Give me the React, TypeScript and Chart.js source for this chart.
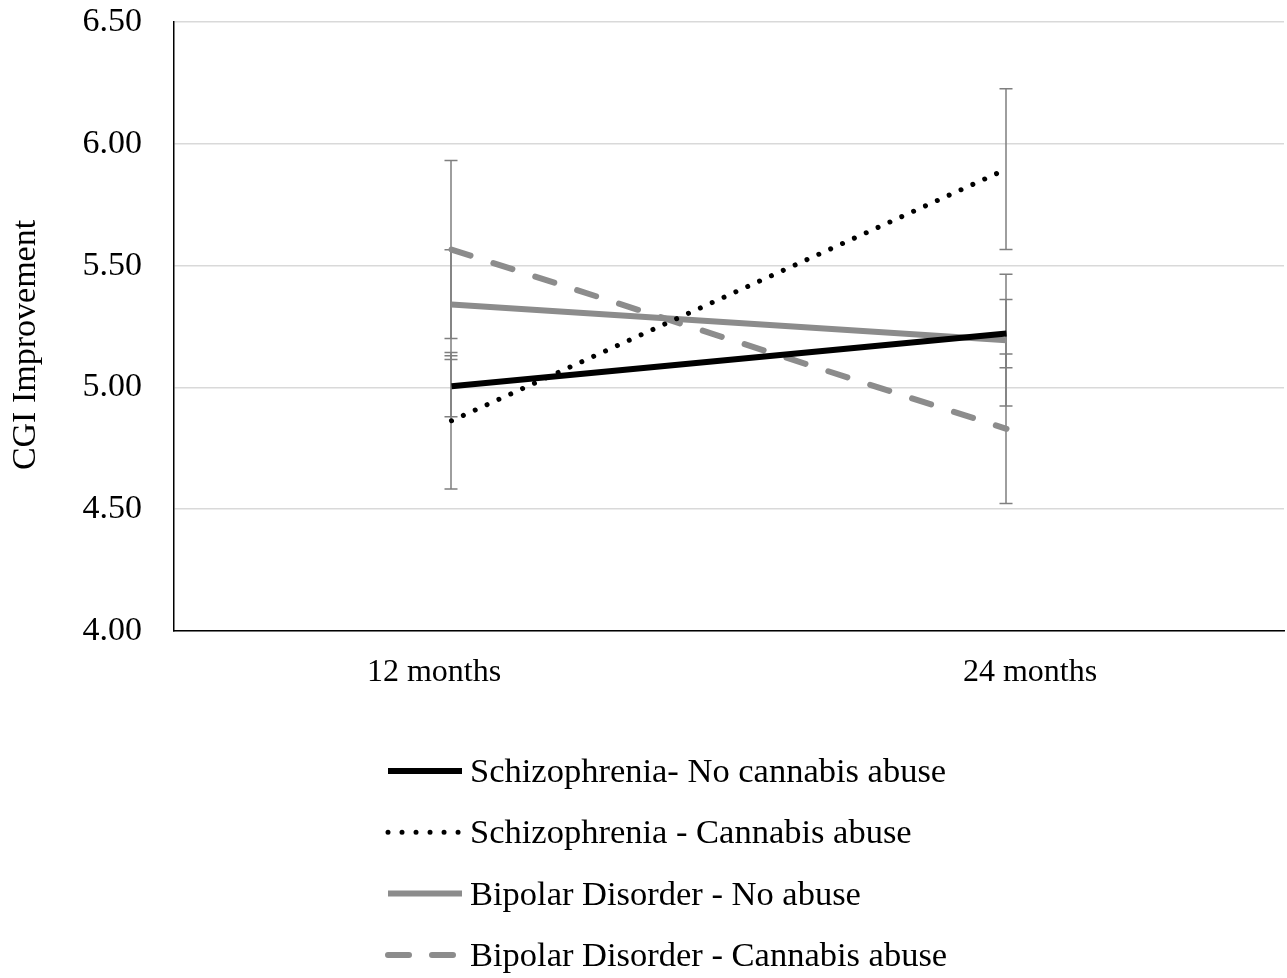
import React, { useEffect, useRef } from "react";
import { Chart, registerables } from "chart.js";

Chart.register(...registerables);

// ---------- data ----------
const categories = ["12 months", "24 months"];

const seriesLabels = [
  "Schizophrenia- No cannabis abuse",
  "Schizophrenia - Cannabis abuse",
  "Bipolar Disorder - No abuse",
  "Bipolar Disorder - Cannabis abuse",
];

const schizoNoAbuse = [5.005, 5.221];
const schizoNoAbuseErr = [0.125, 0.14];

const schizoCannabis = [4.863, 5.896];
const schizoCannabisErr = [0.28, 0.33];

const bipolarNoAbuse = [5.34, 5.194];
const bipolarNoAbuseErr = [0.225, 0.27];

const bipolarCannabis = [5.566, 4.83];
const bipolarCannabisErr = [0.365, 0.307];

const yTicks = [4.0, 4.5, 5.0, 5.5, 6.0, 6.5];
const yTitle = "CGI Improvement";

// ---------- layout / styling ----------
const FONT = "'Liberation Serif', 'Times New Roman', serif";
const W = 1287;
const H = 978;
const AREA_LEFT = 174;
const AREA_RIGHT = 1284;
const AREA_BOTTOM = 631;
// pixel centres of the category labels (Excel spreads them wider than the data points)
const LABEL_FIRST = 434;
const LABEL_LAST = 1030;
const labelSpan = (AREA_RIGHT - AREA_LEFT) / (LABEL_LAST - LABEL_FIRST);
const labelMin = -(LABEL_FIRST - AREA_LEFT) / (LABEL_LAST - LABEL_FIRST);
const labelMax = labelMin + labelSpan;

const errorBarPlugin = {
  id: "errorBars",
  beforeDatasetsDraw(chart: any) {
    const { ctx } = chart;
    const xs = chart.scales.x;
    const ys = chart.scales.y;
    ctx.save();
    ctx.strokeStyle = "#7f7f7f";
    ctx.lineWidth = 1.5;
    ctx.setLineDash([]);
    chart.data.datasets.forEach((ds: any) => {
      const errs: number[] | undefined = ds.errorBars;
      if (!errs) return;
      ds.data.forEach((v: number, i: number) => {
        const px = Math.round(xs.getPixelForValue(i)) - 1;
        const top = ys.getPixelForValue(v + errs[i]);
        const bot = ys.getPixelForValue(v - errs[i]);
        ctx.beginPath();
        ctx.moveTo(px, top);
        ctx.lineTo(px, bot);
        ctx.moveTo(px - 6.5, top);
        ctx.lineTo(px + 6.5, top);
        ctx.moveTo(px - 6.5, bot);
        ctx.lineTo(px + 6.5, bot);
        ctx.stroke();
      });
    });
    ctx.restore();
  },
};

const yTitlePlugin = {
  id: "yTitleText",
  afterDraw(chart: any) {
    const { ctx } = chart;
    ctx.save();
    ctx.translate(35, 345);
    ctx.rotate(-Math.PI / 2);
    ctx.font = `34px ${FONT}`;
    ctx.fillStyle = "#000";
    ctx.textAlign = "center";
    ctx.textBaseline = "alphabetic";
    ctx.fillText(yTitle, 0, 0);
    ctx.restore();
  },
};

const lineLegendPlugin = {
  id: "lineLegend",
  afterDraw(chart: any) {
    const { ctx } = chart;
    const lineStart = 388;
    const lineEnd = 462;
    const textX = 470;
    const firstY = 771;
    const rowGap = 61.3;
    chart.data.datasets.forEach((ds: any, i: number) => {
      const y = firstY + i * rowGap;
      ctx.save();
      ctx.strokeStyle = ds.borderColor;
      ctx.lineWidth = ds.borderWidth;
      ctx.lineCap = ds.borderCapStyle || "butt";
      ctx.setLineDash(ds.legendDash || ds.borderDash || []);
      const end = ds.legendEnd ?? lineEnd;
      ctx.beginPath();
      ctx.moveTo(lineStart, y);
      ctx.lineTo(end, y);
      ctx.stroke();
      ctx.setLineDash([]);
      ctx.font = `34.5px ${FONT}`;
      ctx.fillStyle = "#000";
      ctx.textAlign = "left";
      ctx.textBaseline = "alphabetic";
      ctx.fillText(ds.label, textX, y + 11);
      ctx.restore();
    });
  },
};

export default function App() {
  const canvasRef = useRef<HTMLCanvasElement | null>(null);

  useEffect(() => {
    if (!canvasRef.current) return;
    const chart = new Chart(canvasRef.current, {
      type: "line",
      data: {
        labels: categories,
        datasets: [
          {
            label: seriesLabels[0],
            data: schizoNoAbuse,
            errorBars: schizoNoAbuseErr,
            borderColor: "#000000",
            backgroundColor: "#000000",
            borderWidth: 6,
            borderCapStyle: "butt",
            pointRadius: 0,
            tension: 0,
          },
          {
            label: seriesLabels[1],
            data: schizoCannabis,
            errorBars: schizoCannabisErr,
            borderColor: "#000000",
            backgroundColor: "#000000",
            borderWidth: 5,
            borderDash: [0.01, 13],
            borderCapStyle: "round",
            legendDash: [0.01, 14],
            legendEnd: 459,
            pointRadius: 0,
            tension: 0,
          },
          {
            label: seriesLabels[2],
            data: bipolarNoAbuse,
            errorBars: bipolarNoAbuseErr,
            borderColor: "#8c8c8c",
            backgroundColor: "#8c8c8c",
            borderWidth: 6,
            borderCapStyle: "butt",
            pointRadius: 0,
            tension: 0,
          },
          {
            label: seriesLabels[3],
            data: bipolarCannabis,
            errorBars: bipolarCannabisErr,
            borderColor: "#8c8c8c",
            backgroundColor: "#8c8c8c",
            borderWidth: 6,
            borderDash: [20, 24],
            borderCapStyle: "round",
            legendDash: [21, 23],
            legendEnd: 456,
            pointRadius: 0,
            tension: 0,
          },
        ] as any,
      },
      options: {
        animation: false,
        responsive: true,
        maintainAspectRatio: false,
        layout: { padding: { left: 0, right: W - AREA_RIGHT, top: 22, bottom: 0 } },
        plugins: {
          legend: { display: false },
          tooltip: { enabled: false },
          title: { display: false },
        },
        scales: {
          x: {
            type: "category",
            offset: true,
            weight: 0,
            grid: { display: false, drawTicks: false },
            border: { display: true, color: "#000000", width: 1.5 },
            ticks: { display: false },
            afterFit(scale: any) {
              scale.height = 0;
              scale.paddingLeft = 0;
              scale.paddingRight = 0;
            },
          },
          xLabels: {
            type: "linear",
            position: "bottom",
            weight: 1,
            min: labelMin,
            max: labelMax,
            grid: { display: false, drawTicks: false },
            border: { display: false },
            ticks: {
              color: "#000000",
              font: { family: FONT, size: 32 },
              padding: 22,
              maxRotation: 0,
              autoSkip: false,
              callback: (v: any) => categories[Math.round(Number(v))] ?? "",
            },
            afterBuildTicks(scale: any) {
              scale.ticks = categories.map((_, i) => ({ value: i }));
            },
            afterFit(scale: any) {
              scale.height = H - AREA_BOTTOM;
              scale.paddingLeft = 0;
              scale.paddingRight = 0;
            },
          },
          y: {
            type: "linear",
            min: 4,
            max: 6.5,
            grid: { color: "#d9d9d9", lineWidth: 1.5, drawTicks: false },
            border: { display: true, color: "#000000", width: 1.5 },
            ticks: {
              color: "#000000",
              font: { family: FONT, size: 34 },
              padding: 32,
              callback: (v: any) => Number(v).toFixed(2),
            },
            afterBuildTicks(scale: any) {
              scale.ticks = yTicks.map((v) => ({ value: v }));
            },
            afterFit(scale: any) {
              scale.width = AREA_LEFT;
              scale.paddingTop = 0;
              scale.paddingBottom = 0;
            },
          },
        },
      },
      plugins: [errorBarPlugin, yTitlePlugin, lineLegendPlugin],
    } as any);
    return () => chart.destroy();
  }, []);

  return (
    <div
      style={{
        position: "fixed",
        left: 0,
        top: 0,
        width: W,
        height: H,
        background: "#ffffff",
      }}
    >
      <canvas ref={canvasRef} />
    </div>
  );
}
